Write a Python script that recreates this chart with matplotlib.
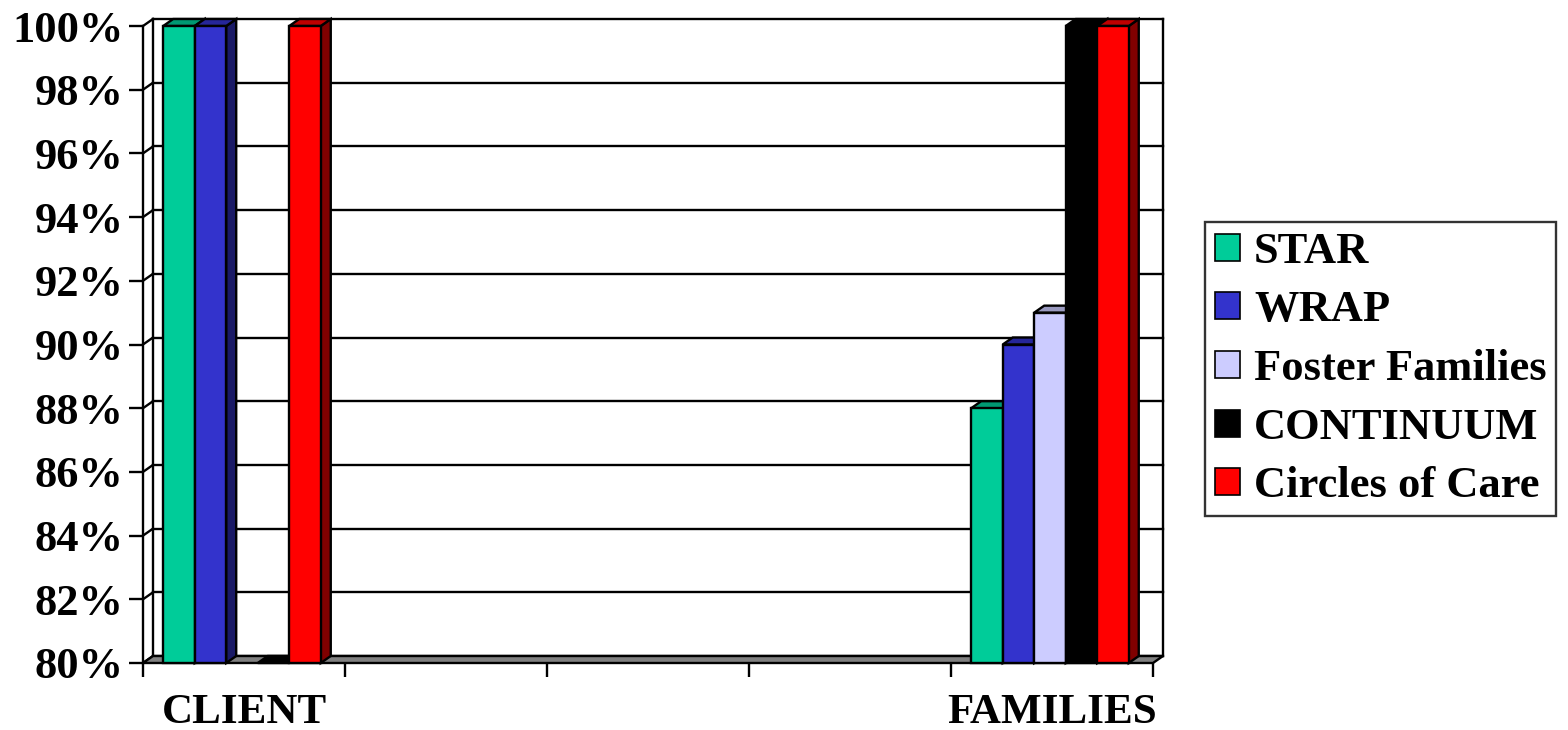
import matplotlib
matplotlib.use("Agg")
import matplotlib.pyplot as plt
import numpy as np
from matplotlib.patches import Polygon, Patch
from matplotlib.colors import to_rgb

plt.rcParams['font.family'] = ['Liberation Serif', 'DejaVu Serif']
plt.rcParams['font.weight'] = 'bold'

# data
categories = ["CLIENT", "", "", "", "FAMILIES"]
series_names = ["STAR", "WRAP", "Foster Families", "CONTINUUM", "Circles of Care"]
star = [100, np.nan, np.nan, np.nan, 88]
wrap = [100, np.nan, np.nan, np.nan, 90]
foster = [np.nan, np.nan, np.nan, np.nan, 91]
continuum = [80, np.nan, np.nan, np.nan, 100]
circles = [100, np.nan, np.nan, np.nan, 100]
colors = ["#00CC99", "#3333CC", "#CCCCFF", "#000000", "#FF0000"]
yticks = list(range(80, 101, 2))

values = [star, wrap, foster, continuum, circles]

W, H = 1568, 730
fig = plt.figure(figsize=(W / 100, H / 100), dpi=100)
ax = fig.add_axes([143 / W, 67 / H, 1010 / W, 637 / H])
ax.set_xlim(0, len(categories))
ax.set_ylim(80, 100)

# 3d depth offsets in data units (about 10px right, 7px up)
dx = 10 / 202
dy = 7 / 31.85
y0, y1 = 80, 100
nc = len(categories)
lw = 1.7

def shade(c, f):
    r, g, b = to_rgb(c)
    return (r * f, g * f, b * f)

# back wall gridlines + side wall diagonals
for t in yticks:
    ax.plot([dx, nc + dx], [t + dy, t + dy], color="black", lw=lw, clip_on=False, zorder=1)
    ax.plot([0, dx], [t, t + dy], color="black", lw=lw, clip_on=False, zorder=1)
ax.plot([dx, dx], [y0 + dy, y1 + dy], color="black", lw=lw, clip_on=False, zorder=1)
ax.plot([nc + dx, nc + dx], [y0 + dy, y1 + dy], color="black", lw=lw, clip_on=False, zorder=1)

# floor
floor = Polygon([(0, y0), (nc, y0), (nc + dx, y0 + dy), (dx, y0 + dy)], closed=True,
                facecolor="#808080", edgecolor="black", lw=lw, clip_on=False, zorder=2)
ax.add_patch(floor)

# bars
bw = 0.156
start = 0.10
z = 3
for j in range(nc):
    for i, vals in enumerate(values):
        v = vals[j]
        if np.isnan(v):
            continue
        x0 = j + start + i * bw
        c = colors[i]
        side = Polygon([(x0 + bw, y0), (x0 + bw + dx, y0 + dy), (x0 + bw + dx, v + dy), (x0 + bw, v)],
                       closed=True, facecolor=shade(c, 0.5), edgecolor="black", lw=lw, clip_on=False, zorder=z)
        top = Polygon([(x0, v), (x0 + bw, v), (x0 + bw + dx, v + dy), (x0 + dx, v + dy)],
                      closed=True, facecolor=shade(c, 0.75), edgecolor="black", lw=lw, clip_on=False, zorder=z)
        ax.add_patch(side)
        ax.add_patch(top)
        if v > y0:
            ax.bar(x0, v - y0, bottom=y0, width=bw, align="edge", color=c, edgecolor="black",
                   lw=lw, clip_on=False, zorder=z)
        z += 1

# axes styling
for s in ["top", "right", "bottom"]:
    ax.spines[s].set_visible(False)
ax.spines["left"].set_linewidth(lw)
ax.set_yticks(yticks)
ax.set_yticklabels(["%d%%" % t for t in yticks], fontsize=32, fontweight="bold")
ax.tick_params(axis="y", length=10, width=lw, pad=4)
ax.set_xticks(range(nc + 1))
ax.set_xticklabels([""] * (nc + 1))
ax.tick_params(axis="x", which="major", length=10, width=lw, direction="out")
ax.set_xticks([j + 0.5 for j in range(nc)], minor=True)
ax.set_xticklabels(categories, minor=True, fontsize=31, fontweight="bold")
ax.tick_params(axis="x", which="minor", length=0, pad=22)

handles = [Patch(facecolor=c, edgecolor="black", lw=1.2) for c in colors]
leg = fig.legend(handles, series_names, loc="upper left", bbox_to_anchor=(1205 / W, 1 - 222 / H),
                 fontsize=32, frameon=True, fancybox=False, shadow=False,
                 handlelength=0.56, handleheight=0.56, handletextpad=0.32,
                 borderpad=0.22, labelspacing=0.42, borderaxespad=0)
leg.get_frame().set_edgecolor("black")
leg.get_frame().set_linewidth(lw)
for t in leg.get_texts():
    t.set_fontweight("bold")

fig.savefig("out.png", dpi=100)
